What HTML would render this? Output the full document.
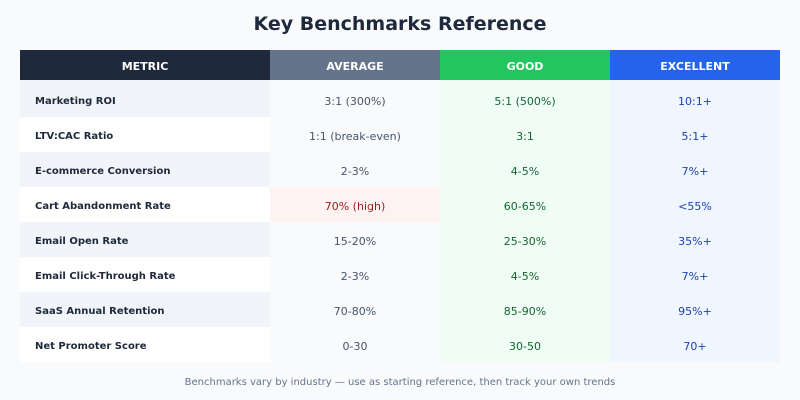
<!DOCTYPE html>
<html><head><meta charset="utf-8"><style>
body{margin:0;width:800px;height:400px;background:#f8fafc;font-family:"DejaVu Sans","Liberation Sans",sans-serif;position:relative;overflow:hidden}
.t{position:absolute;top:13px;left:0;width:800px;text-align:center;font-size:19px;font-weight:bold;color:#1e293b}
.c{position:absolute;display:flex;align-items:center;justify-content:center;font-size:11px;box-sizing:border-box}
.f{position:absolute;top:377px;left:0;width:800px;text-align:center;font-size:10px;color:#64748b}
</style></head><body>
<div class="t">Key Benchmarks Reference</div>
<div id="g"></div>
<div class="f">Benchmarks vary by industry — use as starting reference, then track your own trends</div>
<script>
var rows=[["Marketing ROI","3:1 (300%)","5:1 (500%)","10:1+"],["LTV:CAC Ratio","1:1 (break-even)","3:1","5:1+"],["E-commerce Conversion","2-3%","4-5%","7%+"],["Cart Abandonment Rate","70% (high)","60-65%","<55%"],["Email Open Rate","15-20%","25-30%","35%+"],["Email Click-Through Rate","2-3%","4-5%","7%+"],["SaaS Annual Retention","70-80%","85-90%","95%+"],["Net Promoter Score","0-30","30-50","70+"]];
var xs=[20,270,440,610,780],h="";
var hd=[["METRIC","#1e293b"],["AVERAGE","#64748b"],["GOOD","#22c55e"],["EXCELLENT","#2563eb"]];
for(var i=0;i<4;i++)h+='<div class="c" style="left:'+xs[i]+'px;top:50px;width:'+(xs[i+1]-xs[i])+'px;height:30px;padding-top:2px;background:'+hd[i][1]+';color:#fff;font-weight:bold">'+hd[i][0]+'</div>';
for(var r=0;r<8;r++){var y=r==0?80:117+(r-1)*35,hh=r==0?37:35,pt=r==0?6:4;
for(var i=0;i<4;i++){var bg,col,ex="";
if(i==0){bg=r%2==0?"#f1f5f9":"#fff";col="#1e293b";ex="justify-content:flex-start;padding-left:15px;font-weight:bold;font-size:10px;"}
else if(i==1){bg=r==3?"#fef2f2":"#f8fafc";col=r==3?"#991b1b":"#475569"}
else if(i==2){bg="#f0fdf4";col="#166534"}else{bg="#eff6ff";col="#1e40af"}
h+='<div class="c" style="'+ex+'padding-top:'+pt+'px;left:'+xs[i]+'px;top:'+y+'px;width:'+(xs[i+1]-xs[i])+'px;height:'+hh+'px;background:'+bg+';color:'+col+'">'+rows[r][i].replace("<","&lt;")+'</div>';}}
document.getElementById("g").innerHTML=h;
</script>
</body></html>
